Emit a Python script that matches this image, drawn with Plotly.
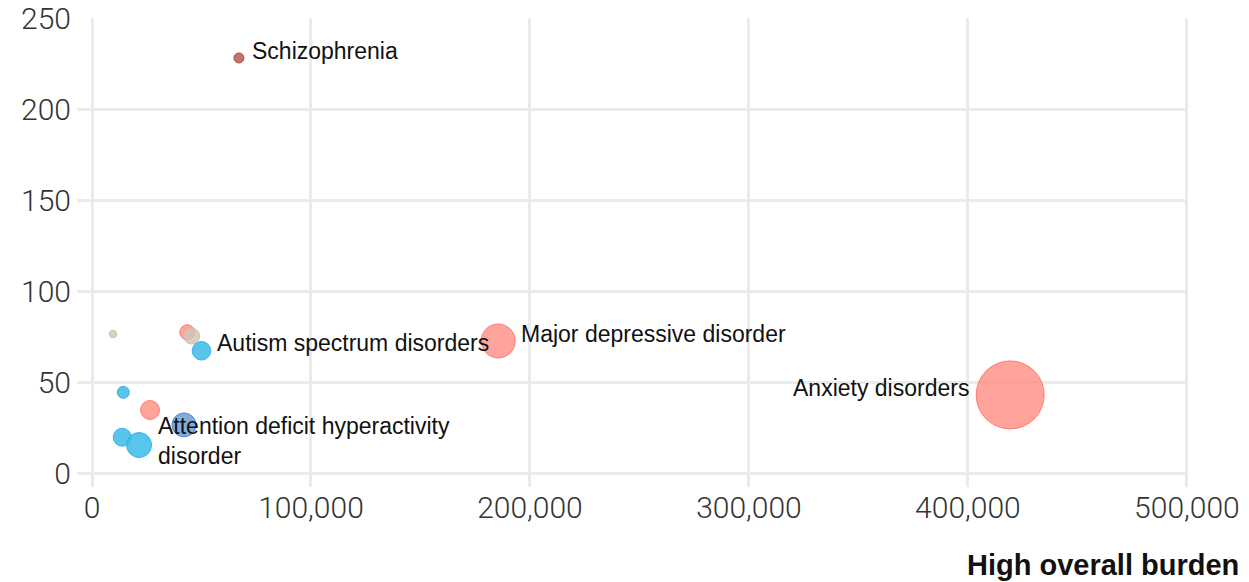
import plotly.graph_objects as go

# burden (x), rate (y), bubble value, group
x_vals = [67100, 9600, 43500, 45500, 50000, 14300, 26500, 42000, 13800, 21500, 185500, 419300]
y_vals = [228.5, 76.5, 77.5, 75.4, 67.3, 44.4, 34.7, 26.5, 19.7, 15.4, 72.7, 43.0]
bubble_vals = [25, 14, 56, 64, 86, 36, 90, 144, 81, 156, 289, 1156]
groups = ["dark", "tan", "red", "tan", "blue", "blue", "red", "steel", "blue", "blue", "red", "red"]

label_text = ["Schizophrenia", "Autism spectrum disorders", "Major depressive disorder",
              "Anxiety disorders", "Attention deficit hyperactivity<br>disorder"]
label_x = [72300, 56300, 195200, 401400, 29400]
label_y = [232.4, 71.6, 76.5, 46.8, 17.9]
label_anchor = ["left", "left", "left", "right", "left"]

x_ticks = [0, 100000, 200000, 300000, 400000, 500000]
x_ticktext = ["0", "100,000", "200,000", "300,000", "400,000", "500,000"]
y_ticks = [0, 50, 100, 150, 200, 250]

fills = {
    "dark": "rgba(194,96,89,0.9)",
    "tan": "rgba(210,198,180,0.8)",
    "red": "rgba(255,140,130,0.8)",
    "blue": "rgba(61,187,233,0.85)",
    "steel": "rgba(80,140,205,0.72)",
}
lines = {
    "dark": "rgba(160,74,68,0.95)",
    "tan": "rgba(200,188,170,0.9)",
    "red": "rgba(255,115,102,0.9)",
    "blue": "rgba(40,175,228,0.9)",
    "steel": "rgba(70,125,190,0.85)",
}

fig = go.Figure()
fig.add_trace(go.Scatter(
    x=x_vals, y=y_vals, mode="markers",
    marker=dict(
        size=bubble_vals, sizemode="area", sizeref=0.5, opacity=1,
        color=[fills[g] for g in groups],
        line=dict(color=[lines[g] for g in groups], width=1),
    ),
    hoverinfo="skip", showlegend=False,
))

for t, lx, ly, a in zip(label_text, label_x, label_y, label_anchor):
    fig.add_annotation(x=lx, y=ly, text=t, showarrow=False, xanchor=a, yanchor="middle",
                       align="left", font=dict(family="Liberation Sans, Arial", size=23, color="#111"))

fig.add_annotation(xref="paper", yref="paper", x=1.0475, y=-0.166, xanchor="right", yanchor="middle",
                   text="<b>High overall burden</b>", showarrow=False,
                   font=dict(family="Liberation Sans, Arial", size=29, color="#111"))

tick_font = dict(family="Roboto", size=30, color="#333", weight=300)
fig.update_layout(
    width=1249, height=582,
    margin=dict(l=77, r=61, t=18, b=95, autoexpand=False),
    paper_bgcolor="white", plot_bgcolor="white",
    xaxis=dict(range=[-6850, 500500], tickvals=x_ticks, ticktext=x_ticktext,
               showgrid=True, gridcolor="#ebebeb", gridwidth=3, zeroline=False,
               showline=False, ticks="", tickfont=tick_font, ticklabelstandoff=0,
               automargin=False),
    yaxis=dict(range=[-7.7, 250.5], tickvals=y_ticks,
               showgrid=True, gridcolor="#ebebeb", gridwidth=3, zeroline=False,
               showline=False, ticks="", tickfont=tick_font, ticklabelstandoff=5,
               automargin=False),
)

fig.write_html("out.html", config={"displayModeBar": False},
               post_script="document.body.style.margin='0';")
